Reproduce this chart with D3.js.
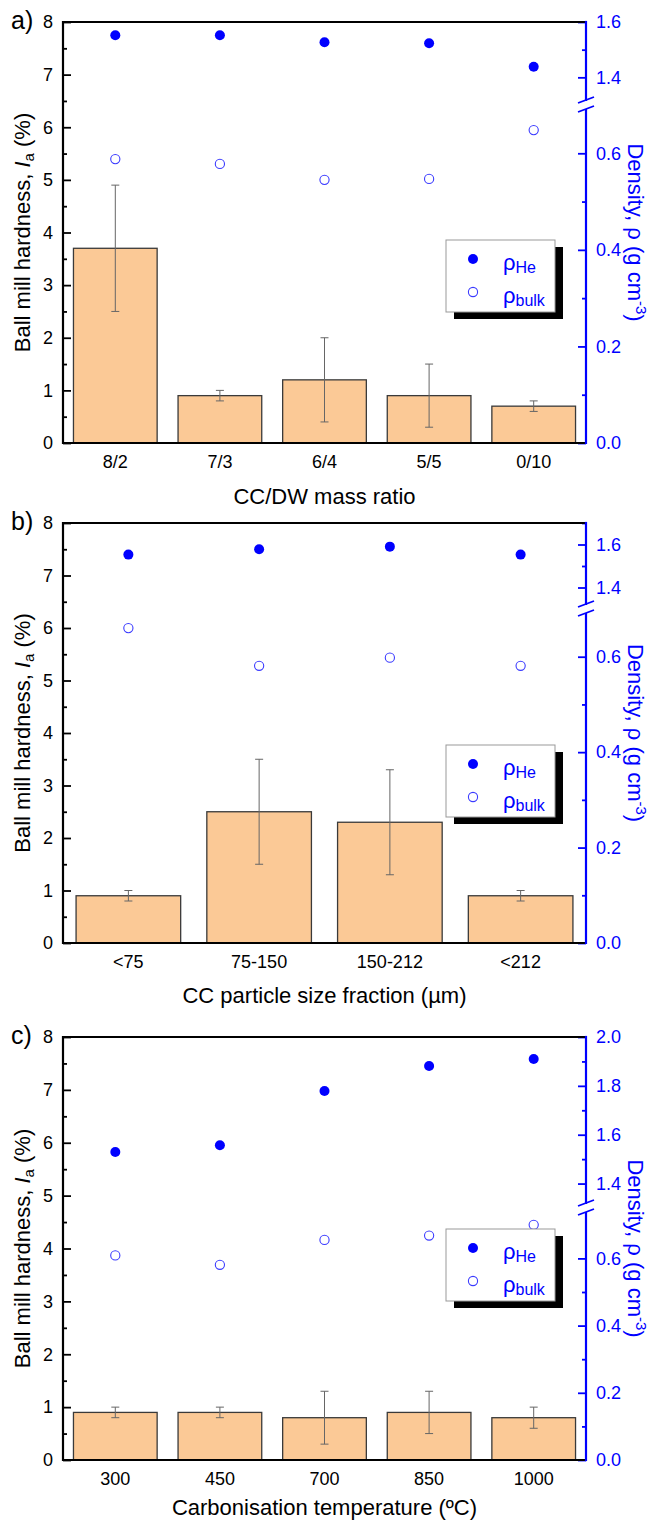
<!DOCTYPE html>
<html>
<head>
<meta charset="utf-8">
<script src="https://cdn.jsdelivr.net/npm/d3@7"></script>
<style>
  body { margin: 0; background: #fff; }
  text { font-family: "Liberation Sans", Arial, sans-serif; }
</style>
</head>
<body>
<div id="chart"></div>
<script>
// ---- data ----
const ratioLabels = ["8/2", "7/3", "6/4", "5/5", "0/10"];
const ratioHardness = [3.7, 0.9, 1.2, 0.9, 0.7];
const ratioHardnessErr = [1.2, 0.1, 0.8, 0.6, 0.1];
const ratioRhoHe = [1.552, 1.552, 1.527, 1.523, 1.438];
const ratioRhoBulk = [0.588, 0.578, 0.545, 0.547, 0.648];

const sizeLabels = ["<75", "75-150", "150-212", "<212"];
const sizeHardness = [0.9, 2.5, 2.3, 0.9];
const sizeHardnessErr = [0.1, 1.0, 1.0, 0.1];
const sizeRhoHe = [1.553, 1.578, 1.590, 1.553];
const sizeRhoBulk = [0.660, 0.581, 0.598, 0.581];

const tempLabels = ["300", "450", "700", "850", "1000"];
const tempHardness = [0.9, 0.9, 0.8, 0.9, 0.8];
const tempHardnessErr = [0.1, 0.1, 0.5, 0.4, 0.2];
const tempRhoHe = [1.529, 1.557, 1.779, 1.881, 1.910];
const tempRhoBulk = [0.609, 0.581, 0.655, 0.668, 0.700];

const leftMajor = [0, 1, 2, 3, 4, 5, 6, 7, 8];
const leftMinor = [0.5, 1.5, 2.5, 3.5, 4.5, 5.5, 6.5, 7.5];
const rightLowMajor = [0, 0.2, 0.4, 0.6];
const rightLowMinor = [0.1, 0.3, 0.5];

// ---- layout ----
const W = 651, H = 1521;
const X0 = 63, X1 = 586;
const BLUE = "#0000ff";
const TICK_FS = 18, TITLE_FS = 22;

const svg = d3.select("#chart").append("svg")
    .attr("width", W).attr("height", H)
    .attr("viewBox", `0 0 ${W} ${H}`);

const panels = [
  { tag: "a)", cats: ratioLabels, bar: ratioHardness, err: ratioHardnessErr, he: ratioRhoHe, bulk: ratioRhoBulk,
    xTitle: "CC/DW mass ratio", top: 22, bottom: 443, breakY: 105, lowMax: 0.7, hi: [1.3, 1.6],
    hiMajor: [1.4, 1.6], hiMinor: [1.5], legendTop: 240, titleOff: 61 },
  { tag: "b)", cats: sizeLabels, bar: sizeHardness, err: sizeHardnessErr, he: sizeRhoHe, bulk: sizeRhoBulk,
    xTitle: "CC particle size fraction (\u00b5m)", top: 523, bottom: 943, breakY: 609, lowMax: 0.7, hi: [1.3, 1.7],
    hiMajor: [1.4, 1.6], hiMinor: [1.5, 1.7], legendTop: 745, titleOff: 60 },
  { tag: "c)", cats: tempLabels, bar: tempHardness, err: tempHardnessErr, he: tempRhoHe, bulk: tempRhoBulk,
    xTitle: "Carbonisation temperature (\u00baC)", top: 1037, bottom: 1460, breakY: 1208, lowMax: 0.75, hi: [1.3, 2.0],
    hiMajor: [1.4, 1.6, 1.8, 2.0], hiMinor: [1.5, 1.7, 1.9], legendTop: 1229, titleOff: 55 }
];

panels.forEach(drawPanel);

function drawPanel(p) {
  const g = svg.append("g");
  const x = d3.scaleBand().domain(p.cats).range([X0, X1]).paddingInner(0.2).paddingOuter(0.1);
  const y = d3.scaleLinear().domain([0, 8]).range([p.bottom, p.top]);
  const yLow = d3.scaleLinear().domain([0, p.lowMax]).range([p.bottom, p.breakY]);
  const yHigh = d3.scaleLinear().domain(p.hi).range([p.breakY, p.top]);
  const yR = v => v <= p.lowMax ? yLow(v) : yHigh(v);
  const cx = d => x(d) + x.bandwidth() / 2;

  // bars
  g.selectAll("rect.bar").data(p.cats).join("rect")
    .attr("x", d => x(d)).attr("width", x.bandwidth())
    .attr("y", (d, i) => y(p.bar[i]))
    .attr("height", (d, i) => p.bottom - y(p.bar[i]))
    .attr("fill", "#fbc996").attr("stroke", "#3a3a3a").attr("stroke-width", 1.3);

  // error bars
  const eb = g.selectAll("g.err").data(p.cats).join("g")
    .attr("stroke", "#666").attr("stroke-width", 1);
  eb.append("line").attr("x1", cx).attr("x2", cx)
    .attr("y1", (d, i) => y(p.bar[i] - p.err[i])).attr("y2", (d, i) => y(p.bar[i] + p.err[i]));
  [1, -1].forEach(s => {
    eb.append("line").attr("x1", d => cx(d) - 4).attr("x2", d => cx(d) + 4)
      .attr("y1", (d, i) => y(p.bar[i] + s * p.err[i])).attr("y2", (d, i) => y(p.bar[i] + s * p.err[i]));
  });

  // density points
  g.selectAll("circle.he").data(p.cats).join("circle")
    .attr("cx", cx).attr("cy", (d, i) => yR(p.he[i])).attr("r", 5).attr("fill", BLUE);
  g.selectAll("circle.bulk").data(p.cats).join("circle")
    .attr("cx", cx).attr("cy", (d, i) => yR(p.bulk[i])).attr("r", 4.6)
    .attr("fill", "none").attr("stroke", "#3b3bff").attr("stroke-width", 1.1);

  // left axis
  const axL = g.append("g").attr("transform", `translate(${X0},0)`)
    .call(d3.axisLeft(y).tickValues(leftMajor).tickSizeInner(-8).tickSizeOuter(0).tickPadding(10).tickFormat(d3.format("d")));
  g.append("g").attr("transform", `translate(${X0},0)`)
    .call(d3.axisLeft(y).tickValues(leftMinor).tickSizeInner(-4).tickSizeOuter(0).tickFormat(""));

  // right axis (broken)
  const rightAxes = [
    [yLow, rightLowMajor, -8, true], [yLow, rightLowMinor, -4, false],
    [yHigh, p.hiMajor, -8, true], [yHigh, p.hiMinor, -4, false]
  ];
  rightAxes.forEach(([sc, vals, size, lab]) => {
    g.append("g").attr("class", "raxis").attr("transform", `translate(${X1},0)`)
      .call(d3.axisRight(sc).tickValues(vals).tickSizeInner(size).tickSizeOuter(0).tickPadding(10)
        .tickFormat(lab ? d3.format(".1f") : ""));
  });

  g.selectAll(".domain").remove();
  g.selectAll(".tick line").attr("stroke-width", 1.8);
  g.selectAll(".tick text").attr("font-size", TICK_FS).attr("font-family", "Liberation Sans, Arial, sans-serif");
  axL.selectAll(".tick text").attr("fill", "#000");
  g.selectAll(".raxis .tick line").attr("stroke", BLUE);
  g.selectAll(".raxis .tick text").attr("fill", BLUE);

  // frame
  const frame = (x1, y1, x2, y2, c) => g.append("line")
    .attr("x1", x1).attr("y1", y1).attr("x2", x2).attr("y2", y2)
    .attr("stroke", c).attr("stroke-width", 2.2);
  frame(X0, p.top, X1, p.top, "#000");
  frame(X0, p.bottom, X1, p.bottom, "#000");
  frame(X0, p.top - 1.1, X0, p.bottom + 1.1, "#000");
  frame(X1, p.top - 1.1, X1, p.breakY - 4, BLUE);
  frame(X1, p.breakY + 4, X1, p.bottom + 1.1, BLUE);
  [-5, 4].forEach(o => {
    g.append("line").attr("x1", X1 - 8).attr("x2", X1 + 8)
      .attr("y1", p.breakY + o + 3).attr("y2", p.breakY + o - 3)
      .attr("stroke", BLUE).attr("stroke-width", 1.8);
  });

  // x tick labels
  g.selectAll("text.xl").data(p.cats).join("text")
    .attr("x", cx).attr("y", p.bottom + 25).attr("text-anchor", "middle")
    .attr("font-size", TICK_FS).text(d => d);

  // axis titles
  g.append("text").attr("x", (X0 + X1) / 2).attr("y", p.bottom + p.titleOff)
    .attr("text-anchor", "middle").attr("font-size", TITLE_FS).text(p.xTitle);

  const ly = (p.top + p.bottom) / 2;
  const lt = g.append("text").attr("transform", `translate(30,${ly}) rotate(-90)`)
    .attr("text-anchor", "middle").attr("font-size", TITLE_FS);
  lt.append("tspan").text("Ball mill hardness, ");
  lt.append("tspan").attr("font-style", "italic").text("I");
  lt.append("tspan").attr("font-size", 15).attr("dy", 4).text("a");
  lt.append("tspan").attr("dy", -4).text(" (%)");

  const rt = g.append("text").attr("transform", `translate(628,${ly}) rotate(90)`)
    .attr("text-anchor", "middle").attr("font-size", TITLE_FS).attr("fill", BLUE);
  rt.append("tspan").text("Density, \u03c1 (g cm");
  rt.append("tspan").attr("font-size", 15).attr("dy", -8).text("-3");
  rt.append("tspan").attr("dy", 8).text(")");

  // panel tag
  g.append("text").attr("x", 11).attr("y", p.top + 7)
    .attr("font-family", "Liberation Serif, Times New Roman, serif").attr("font-size", 25).text(p.tag);

  // legend
  const lx = 446, lw = 109, lh = 72, lt0 = p.legendTop;
  g.append("rect").attr("x", lx + 8).attr("y", lt0 + 7).attr("width", lw).attr("height", lh).attr("fill", "#000");
  g.append("rect").attr("x", lx).attr("y", lt0).attr("width", lw).attr("height", lh)
    .attr("fill", "#fff").attr("stroke", "#999").attr("stroke-width", 1);
  g.append("circle").attr("cx", lx + 27).attr("cy", lt0 + 19).attr("r", 5).attr("fill", BLUE);
  g.append("circle").attr("cx", lx + 27).attr("cy", lt0 + 52).attr("r", 4.6)
    .attr("fill", "none").attr("stroke", "#3b3bff").attr("stroke-width", 1.1);
  [["He", 30], ["bulk", 63]].forEach(([sub, yy]) => {
    const t = g.append("text").attr("x", lx + 57).attr("y", lt0 + yy).attr("fill", BLUE).attr("font-size", 22);
    t.append("tspan").text("\u03c1");
    t.append("tspan").attr("font-size", 16).attr("dy", 3).text(sub);
  });
}
</script>
</body>
</html>
